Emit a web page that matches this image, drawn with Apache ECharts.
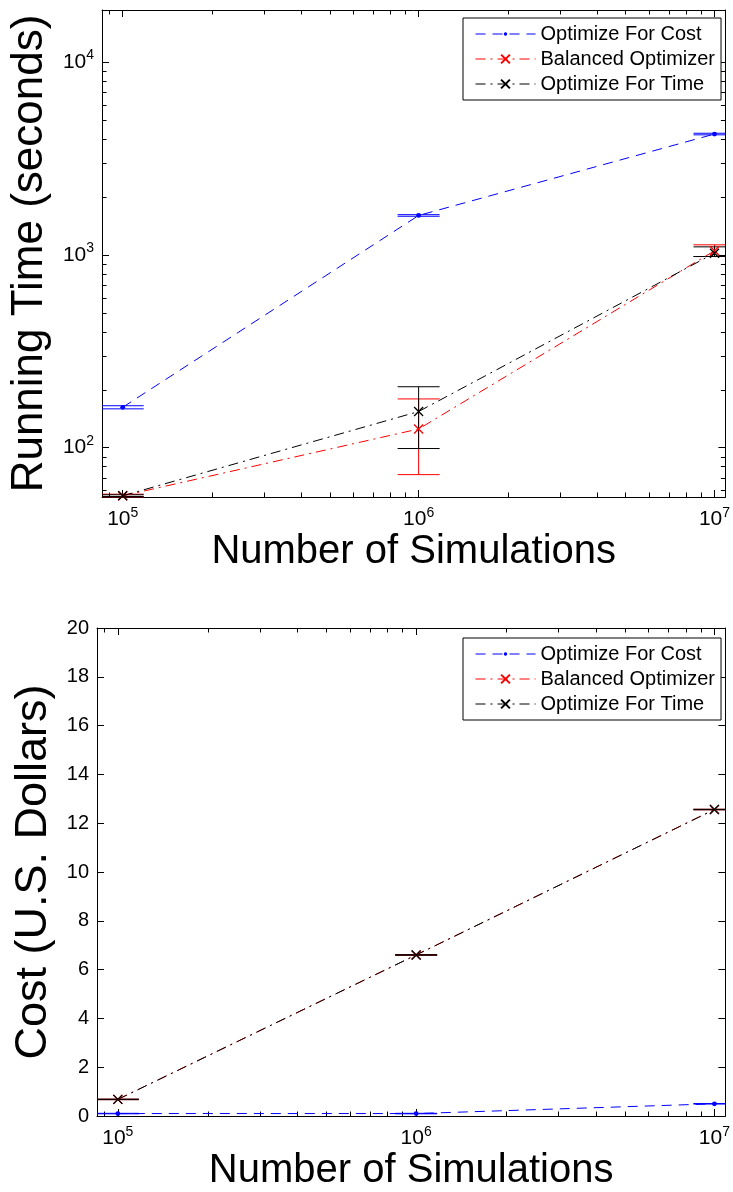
<!DOCTYPE html>
<html>
<head>
<meta charset="utf-8">
<script src="https://cdn.jsdelivr.net/npm/echarts@6/dist/echarts.min.js"></script>
<style>
html,body{margin:0;padding:0;background:#fff;}
#chart{width:733px;height:1192px;}
</style>
</head>
<body>
<div id="chart"></div>
<script>
// ---------- data ----------
const seriesNames = ['Optimize For Cost', 'Balanced Optimizer', 'Optimize For Time'];
const simulations = [1e5, 1e6, 1e7];

// Running time (seconds)
const timeCost      = [162, 1600, 4230];
const timeCostLow   = [159, 1585, 4190];
const timeCostHigh  = [165, 1615, 4270];
const timeBalanced     = [56.3, 125, 1050];
const timeBalancedLow  = [55.6, 72.5, 980];
const timeBalancedHigh = [57.4, 179, 1127];
const timeTime      = [56.3, 154, 1020];
const timeTimeLow   = [55.8, 99, 980];
const timeTimeHigh  = [57.0, 207, 1100];

// Cost (U.S. dollars)
const costCost      = [0.10, 0.10, 0.50];
const costCostLow   = [0.09, 0.09, 0.49];
const costCostHigh  = [0.11, 0.11, 0.51];
const costBalanced     = [0.68, 6.60, 12.56];
const costBalancedLow  = [0.67, 6.59, 12.55];
const costBalancedHigh = [0.69, 6.61, 12.57];
const costTime      = [0.68, 6.60, 12.56];
const costTimeLow   = [0.67, 6.59, 12.55];
const costTimeHigh  = [0.69, 6.61, 12.57];

const costTicks = [0, 2, 4, 6, 8, 10, 12, 14, 16, 18, 20];

// ---------- styling ----------
const FONT = 'Liberation Sans, Arial, Helvetica, sans-serif';
const COLORS = ['#0000ff', '#ff0000', '#000000'];
const X_MIN = 85150, X_MAX = 10880000;
const YT_MIN = 55.5, YT_MAX = 18600;
const MAJOR = 7, MINOR = 4.5;
const xSymbol = 'path://M0,0L10,10M10,0L0,10';
// small dot inside a wider (invisible) box so the legend shows a small point
const dotSymbol = 'path://M0,0M10,10M5,3A2,2 0 1,1 5,7A2,2 0 1,1 5,3Z';

const chart = echarts.init(document.getElementById('chart'), null, {renderer: 'canvas'});

function pair(xs, ys) { return xs.map((x, i) => [x, ys[i]]); }
function triple(xs, lo, hi) { return xs.map((x, i) => [x, lo[i], hi[i]]); }

function powLabel(v) {
  const e = Math.log10(v);
  if (Math.abs(e - Math.round(e)) < 1e-6) return '{b|10}{s|' + Math.round(e) + '}';
  return '';
}
const richPow = {
  b: {fontSize: 21, fontFamily: FONT, color: '#000'},
  s: {fontSize: 14, fontFamily: FONT, color: '#000', padding: [0, 0, 13, 0]}
};

function axisCommon(extra) {
  return Object.assign({
    axisLine: {show: true, onZero: false, lineStyle: {color: '#000', width: 1}},
    axisTick: {show: true, inside: true, length: MAJOR, lineStyle: {color: '#000', width: 1}},
    splitLine: {show: false},
    minorTick: {show: false},
  }, extra);
}

function lineSeries(name, idx, xi, yi, ys) {
  const dashed = idx === 0;
  return {
    type: 'line', name: name, xAxisIndex: xi, yAxisIndex: yi,
    data: pair(simulations, ys),
    symbol: dashed ? dotSymbol : xSymbol,
    symbolSize: dashed ? 12 : 9,
    showSymbol: true,
    color: COLORS[idx],
    itemStyle: {color: COLORS[idx], borderColor: COLORS[idx], borderWidth: dashed ? 0 : 1.3},
    lineStyle: {color: COLORS[idx], width: 1, type: dashed ? [10, 7] : [10, 5, 2, 5]},
    animation: false, z: 3, clip: true
  };
}

function errSeries(name, idx, xi, yi, lo, hi) {
  return {
    type: 'custom', name: name + ' err', xAxisIndex: xi, yAxisIndex: yi,
    data: triple(simulations, lo, hi),
    encode: {x: 0, y: [1, 2]},
    silent: true, animation: false, z: 2,
    renderItem: function (params, api) {
      const cs = params.coordSys;
      const x = api.value(0);
      const pLo = api.coord([x, api.value(1)]);
      const pHi = api.coord([x, api.value(2)]);
      const half = 21;
      const l = Math.max(cs.x, pLo[0] - half), r = Math.min(cs.x + cs.width, pLo[0] + half);
      const st = {stroke: COLORS[idx], lineWidth: 1};
      return {type: 'group', children: [
        {type: 'line', shape: {x1: pLo[0], y1: pLo[1], x2: pHi[0], y2: pHi[1]}, style: st},
        {type: 'line', shape: {x1: l, y1: pLo[1], x2: r, y2: pLo[1]}, style: st},
        {type: 'line', shape: {x1: l, y1: pHi[1], x2: r, y2: pHi[1]}, style: st}
      ]};
    }
  };
}

function minorValues(lo, hi) {
  const out = [];
  for (let d = Math.floor(Math.log10(lo)); d <= Math.ceil(Math.log10(hi)); d++) {
    for (let m = 2; m <= 9; m++) {
      const v = m * Math.pow(10, d);
      if (v > lo && v < hi) out.push(v);
    }
  }
  return out;
}

function minorTickSeries(xi, yi, anchor, logY) {
  const xs = minorValues(X_MIN, X_MAX);
  const ys = logY ? minorValues(YT_MIN, YT_MAX) : [];
  return {
    type: 'custom', xAxisIndex: xi, yAxisIndex: yi, data: [anchor],
    silent: true, animation: false, z: 1,
    renderItem: function (params, api) {
      const cs = params.coordSys;
      const st = {stroke: '#000', lineWidth: 1};
      const kids = [];
      xs.forEach(v => {
        const px = Math.round(api.coord([v, anchor[1]])[0]) + 0.5;
        kids.push({type: 'line', shape: {x1: px, y1: cs.y + cs.height, x2: px, y2: cs.y + cs.height - MINOR}, style: st});
        kids.push({type: 'line', shape: {x1: px, y1: cs.y, x2: px, y2: cs.y + MINOR}, style: st});
      });
      ys.forEach(v => {
        const py = Math.round(api.coord([anchor[0], v])[1]) + 0.5;
        kids.push({type: 'line', shape: {x1: cs.x, y1: py, x2: cs.x + MINOR, y2: py}, style: st});
        kids.push({type: 'line', shape: {x1: cs.x + cs.width, y1: py, x2: cs.x + cs.width - MINOR, y2: py}, style: st});
      });
      return {type: 'group', children: kids};
    }
  };
}

function legendFor(top) {
  return {
    data: seriesNames, orient: 'vertical', left: 463, top: top,
    backgroundColor: '#fff', borderColor: '#000', borderWidth: 1, borderRadius: 0,
    padding: [6, 6, 6, 12], itemGap: 5, itemWidth: 60, itemHeight: 11,
    selectedMode: false,
    lineStyle: {width: 1},
    textStyle: {fontSize: 20, fontFamily: FONT, color: '#000'}
  };
}

const xName = {
  name: 'Number of Simulations', nameLocation: 'middle', nameGap: 35,
  nameTextStyle: {fontSize: 40, fontFamily: FONT, color: '#000'}
};

const option = {
  backgroundColor: '#fff',
  animation: false,
  grid: [
    {left: 97, right: 2, top: 10, height: 487},
    {left: 97, right: 2, top: 628, height: 489}
  ],
  legend: [legendFor(18), legendFor(638)],
  xAxis: [
    axisCommon(Object.assign({type: 'log', logBase: 10, gridIndex: 0, min: X_MIN, max: X_MAX, position: 'bottom',
      axisLabel: {formatter: powLabel, rich: richPow, margin: 9, showMinLabel: false, showMaxLabel: false}}, xName)),
    axisCommon({type: 'log', logBase: 10, gridIndex: 0, min: X_MIN, max: X_MAX, position: 'top', axisLabel: {show: false}}),
    axisCommon(Object.assign({type: 'log', logBase: 10, gridIndex: 1, min: X_MIN, max: X_MAX, position: 'bottom',
      axisLabel: {formatter: powLabel, rich: richPow, margin: 9, showMinLabel: false, showMaxLabel: false}}, xName)),
    axisCommon({type: 'log', logBase: 10, gridIndex: 1, min: X_MIN, max: X_MAX, position: 'top', axisLabel: {show: false}})
  ],
  yAxis: [
    axisCommon({type: 'log', logBase: 10, gridIndex: 0, min: YT_MIN, max: YT_MAX, position: 'left',
      axisLabel: {formatter: powLabel, rich: richPow, margin: 8, showMinLabel: false, showMaxLabel: false},
      name: 'Running Time (seconds)', nameLocation: 'middle', nameGap: 41,
      nameTextStyle: {fontSize: 44, fontFamily: FONT, color: '#000'}}),
    axisCommon({type: 'log', logBase: 10, gridIndex: 0, min: YT_MIN, max: YT_MAX, position: 'right', axisLabel: {show: false}}),
    axisCommon({type: 'value', gridIndex: 1, min: costTicks[0], max: costTicks[costTicks.length - 1], interval: costTicks[1] - costTicks[0], position: 'left',
      axisLabel: {fontSize: 20, fontFamily: FONT, color: '#000', margin: 8},
      name: 'Cost (U.S. Dollars)', nameLocation: 'middle', nameGap: 41,
      nameTextStyle: {fontSize: 45, fontFamily: FONT, color: '#000'}}),
    axisCommon({type: 'value', gridIndex: 1, min: costTicks[0], max: costTicks[costTicks.length - 1], interval: costTicks[1] - costTicks[0], position: 'right', axisLabel: {show: false}})
  ],
  series: [
    minorTickSeries(0, 0, [1e6, 1000], true),
    minorTickSeries(2, 2, [1e6, 10], false),
    errSeries(seriesNames[0], 0, 0, 0, timeCostLow, timeCostHigh),
    errSeries(seriesNames[1], 1, 0, 0, timeBalancedLow, timeBalancedHigh),
    errSeries(seriesNames[2], 2, 0, 0, timeTimeLow, timeTimeHigh),
    lineSeries(seriesNames[0], 0, 0, 0, timeCost),
    lineSeries(seriesNames[1], 1, 0, 0, timeBalanced),
    lineSeries(seriesNames[2], 2, 0, 0, timeTime),
    errSeries(seriesNames[0], 0, 2, 2, costCostLow, costCostHigh),
    errSeries(seriesNames[1], 1, 2, 2, costBalancedLow, costBalancedHigh),
    errSeries(seriesNames[2], 2, 2, 2, costTimeLow, costTimeHigh),
    lineSeries(seriesNames[0], 0, 2, 2, costCost),
    lineSeries(seriesNames[1], 1, 2, 2, costBalanced),
    lineSeries(seriesNames[2], 2, 2, 2, costTime)
  ]
};
chart.setOption(option);
</script>
</body>
</html>
